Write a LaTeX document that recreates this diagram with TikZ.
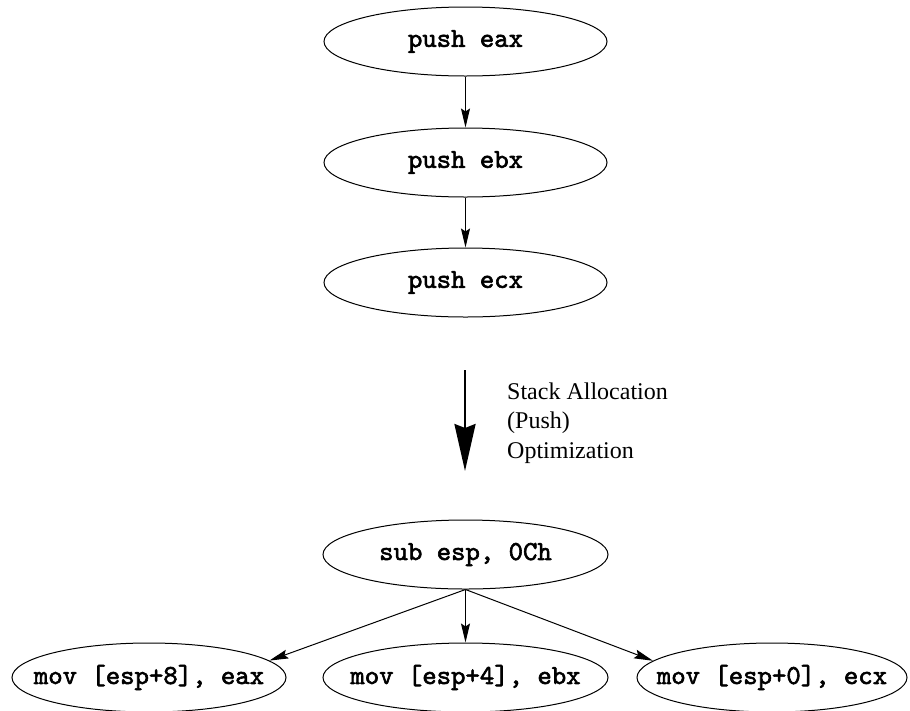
\documentclass[tikz,border=0pt]{standalone}
\usepackage{fontspec}
\usetikzlibrary{shapes.geometric,arrows.meta}
\newfontfamily\labelfont{Liberation Serif}
\newfontfamily\codefont{lmmono10-regular.otf}[FakeBold=2.2]
% code text is centred in a zero-width box so the ellipse keeps its set size
\newcommand{\insn}[1]{\makebox[0pt]{#1}}
\tikzset{
  insnbox/.style={ellipse, draw, line width=1pt, inner sep=0pt,
    minimum width=283pt, minimum height=69pt,
    font=\codefont\fontsize{27.4}{30}\selectfont},
  flow/.style={draw, line width=1pt,
    -{Stealth[length=19pt,width=9pt,inset=3pt]}},
  bigflow/.style={draw, line width=2.6pt,
    -{Stealth[length=47pt,width=21pt,inset=4pt]}},
}
\begin{document}
\begin{tikzpicture}[x=1pt,y=-1pt]
  \useasboundingbox (0,0) rectangle (910,710);

  % original push sequence
  \node[insnbox] (eax) at (465.5,41.5)  {\insn{push eax}};
  \node[insnbox] (ebx) at (465.5,162.5) {\insn{push ebx}};
  \node[insnbox] (ecx) at (465.5,282.5) {\insn{push ecx}};
  \path[flow] (eax) -- (ebx);
  \path[flow] (ebx) -- (ecx);

  % transformation step
  \coordinate (optTop) at (465,370);
  \coordinate (optBot) at (465,471);
  \path[bigflow] (optTop) -- (optBot);
  \node[anchor=west, align=left, inner sep=0pt,
        font=\labelfont\fontsize{24}{29.5}\selectfont] (optText) at (507,423)
    {Stack Allocation\\(Push)\\Optimization};

  % optimized sequence
  \node[insnbox, minimum width=285pt] (sub) at (465.5,554.5) {\insn{sub esp, 0Ch}};
  \node[insnbox, minimum width=274pt] (m8) at (149,677.5)   {\insn{mov [esp+8], eax}};
  \node[insnbox, minimum width=285pt] (m4) at (465.5,677.5) {\insn{mov [esp+4], ebx}};
  \node[insnbox, minimum width=270pt] (m0) at (772,677.5)   {\insn{mov [esp+0], ecx}};
  \path[flow] (sub.south) -- (m8.8);
  \path[flow] (sub.south) -- (m4.north);
  \path[flow] (sub.south) -- (m0.172);
\end{tikzpicture}
\end{document}
